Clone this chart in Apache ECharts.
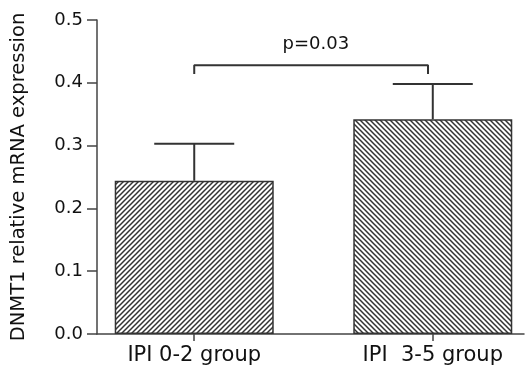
<!DOCTYPE html>
<html>
<head>
<meta charset="utf-8">
<script src="https://cdn.jsdelivr.net/npm/echarts@6/dist/echarts.min.js"></script>
<style>
  html, body { margin: 0; padding: 0; background: #fff; }
  #main { width: 525px; height: 372px; }
</style>
</head>
<body>
<div id="main"></div>
<script>
// 数据
var categories = ['IPI 0-2 group', 'IPI  3-5 group'];
var positions = [1, 2];
var means = [0.244, 0.342];
var errors = [0.059, 0.056];
var hatchDir = ['/', '\\'];
var bracketX = [1.0, 1.98];
var bracketY = [0.414, 0.428];
var pText = 'p=0.03';
var pPos = [1.51, 0.462];

// 斜线填充
function hatch(dir) {
    var p = 5;
    var c = document.createElement('canvas');
    c.width = p; c.height = p;
    var ctx = c.getContext('2d');
    ctx.fillStyle = '#fff';
    ctx.fillRect(0, 0, p, p);
    ctx.strokeStyle = '#333';
    ctx.lineWidth = 1.5;
    ctx.beginPath();
    if (dir === '/') {
        ctx.moveTo(-1, p + 1); ctx.lineTo(p + 1, -1);
        ctx.moveTo(-1, 1); ctx.lineTo(1, -1);
        ctx.moveTo(p - 1, p + 1); ctx.lineTo(p + 1, p - 1);
    } else {
        ctx.moveTo(-1, -1); ctx.lineTo(p + 1, p + 1);
        ctx.moveTo(p - 1, -1); ctx.lineTo(p + 1, 1);
        ctx.moveTo(-1, p - 1); ctx.lineTo(1, p + 1);
    }
    ctx.stroke();
    return {image: c, repeat: 'repeat'};
}

var barData = positions.map(function (x, i) {
    return {
        value: [x, means[i]],
        itemStyle: {color: hatch(hatchDir[i]), borderColor: '#333', borderWidth: 1.5}
    };
});

var errData = positions.map(function (x, i) {
    return [x, means[i], means[i] + errors[i]];
});

var bracketData = [
    [bracketX[0], bracketY[0]],
    [bracketX[0], bracketY[1]],
    [bracketX[1], bracketY[1]],
    [bracketX[1], bracketY[0]]
];

var lineColor = '#444';
var txt = '#111';

var chart = echarts.init(document.getElementById('main'));
chart.setOption({
    backgroundColor: '#fff',
    animation: false,
    grid: {left: 97, right: 1, top: 20, bottom: 38, containLabel: false, outerBoundsMode: 'none'},
    xAxis: {
        type: 'value',
        min: 0.5924,
        max: 2.3824,
        splitLine: {show: false},
        axisLine: {show: true, onZero: false, lineStyle: {color: lineColor, width: 1.5}},
        axisTick: {show: true, customValues: positions, length: 7, lineStyle: {color: lineColor, width: 1.5}},
        axisLabel: {
            customValues: positions,
            margin: 11,
            fontFamily: 'DejaVu Sans',
            fontSize: 21,
            color: txt,
            formatter: function (v) {
                return categories[Math.round(v) - 1];
            }
        }
    },
    yAxis: {
        type: 'value',
        min: 0,
        max: 0.5,
        interval: 0.1,
        name: 'DNMT1 relative mRNA expression',
        nameLocation: 'middle',
        nameGap: 68,
        nameTextStyle: {fontFamily: 'DejaVu Sans', fontSize: 19.5, color: txt},
        splitLine: {show: false},
        axisLine: {show: true, lineStyle: {color: lineColor, width: 1.5}},
        axisTick: {show: true, length: 10, lineStyle: {color: lineColor, width: 1.5}},
        axisLabel: {
            margin: 14,
            fontFamily: 'DejaVu Sans',
            fontSize: 18,
            color: txt,
            formatter: function (v) { return v.toFixed(1); }
        }
    },
    series: [
        {
            type: 'bar',
            barWidth: 159,
            data: barData,
            z: 2
        },
        {
            type: 'custom',
            z: 3,
            data: errData,
            renderItem: function (params, api) {
                var x = api.value(0);
                var lo = api.coord([x, api.value(1)]);
                var hi = api.coord([x, api.value(2)]);
                var half = 40;
                var st = {stroke: '#333', lineWidth: 2};
                return {
                    type: 'group',
                    children: [
                        {type: 'line', shape: {x1: lo[0], y1: lo[1], x2: hi[0], y2: hi[1]}, style: st},
                        {type: 'line', shape: {x1: hi[0] - half, y1: hi[1], x2: hi[0] + half, y2: hi[1]}, style: st}
                    ]
                };
            }
        },
        {
            type: 'line',
            data: bracketData,
            symbol: 'none',
            lineStyle: {color: '#333', width: 2},
            silent: true
        },
        {
            type: 'scatter',
            data: [pPos],
            symbolSize: 0,
            itemStyle: {opacity: 1},
            label: {
                show: true,
                position: 'inside',
                formatter: pText,
                fontFamily: 'DejaVu Sans',
                fontSize: 18,
                color: txt
            }
        }
    ]
});
</script>
</body>
</html>
